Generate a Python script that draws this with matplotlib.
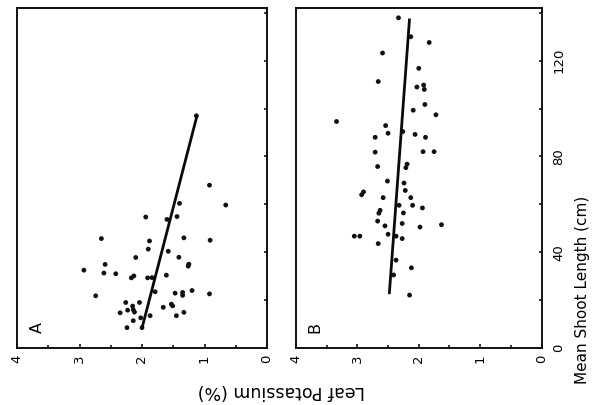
import matplotlib
matplotlib.use("Agg")
import matplotlib.pyplot as plt
from matplotlib.ticker import MultipleLocator

plt.rcParams['font.family'] = ['DejaVu Sans']

# Panel A: leaf potassium (%) vs mean shoot length (cm)
a_k = [1.13, 0.92, 0.66, 1.40, 1.94, 1.44, 1.60, 2.65, 1.88, 1.33, 0.91, 1.90, 1.58,
       2.10, 1.41, 2.59, 1.26, 1.25, 2.93, 2.61, 2.42, 2.17, 2.13, 1.91, 1.84, 1.61,
       2.74, 1.79, 1.47, 1.35, 1.35, 1.20, 0.92, 2.26, 2.04, 2.15, 2.14, 2.12, 2.23,
       2.35, 1.66, 1.51, 1.53, 1.87, 1.45, 1.33, 2.02, 2.14, 2.24, 2.00]
a_len = [97.0, 68.0, 59.7, 60.4, 54.7, 54.9, 53.7, 45.7, 44.7, 46.0, 45.0, 41.3, 40.4,
         37.8, 37.9, 34.9, 34.2, 35.0, 32.5, 31.3, 31.0, 29.3, 30.1, 29.3, 29.4, 30.4,
         21.8, 23.5, 22.9, 22.0, 23.2, 24.0, 22.6, 19.0, 19.0, 17.5, 16.0, 15.0, 15.8,
         14.7, 17.0, 17.6, 18.3, 13.5, 13.5, 14.9, 12.6, 11.4, 8.5, 8.5]
a_line_len = [8.3, 97.0]
a_line_k = [2.00, 1.12]

# Panel B
b_k = [2.33, 2.13, 1.83, 2.59, 2.00, 2.66, 2.03, 1.92, 1.91, 1.90, 2.09, 1.72, 3.34,
       2.54, 2.50, 2.26, 2.71, 2.06, 1.89, 2.71, 1.93, 1.75, 2.67, 2.21, 2.19, 2.51,
       2.24, 2.22, 2.93, 2.90, 2.58, 2.13, 2.32, 2.10, 1.94, 2.25, 2.65, 2.63, 2.67,
       2.55, 2.27, 1.98, 1.63, 2.50, 2.37, 2.27, 3.05, 2.96, 2.66, 2.37, 2.12, 2.41, 2.15]
b_len = [137.9, 130.0, 127.6, 123.2, 116.8, 111.3, 109.0, 109.8, 108.0, 101.7, 99.3,
         97.4, 94.6, 92.9, 89.7, 90.4, 88.0, 89.2, 88.0, 81.8, 82.0, 82.0, 75.8, 75.3,
         76.8, 69.7, 68.9, 65.8, 64.0, 65.2, 62.8, 62.8, 59.6, 59.6, 58.5, 56.4, 56.3,
         57.5, 53.0, 51.0, 52.0, 50.5, 51.5, 47.5, 46.7, 45.7, 46.7, 46.7, 43.6, 36.7,
         33.5, 30.5, 22.1]
b_line_len = [22.5, 137.6]
b_line_k = [2.48, 2.15]

x_ticks = [4, 3, 2, 1, 0]
y_ticks = [0, 40, 80, 120]

W, H = 592, 405
fig = plt.figure(figsize=(W / 100, H / 100), dpi=100)


def px_axes(x0, y0, x1, y1):
    return fig.add_axes([x0 / W, 1 - y1 / H, (x1 - x0) / W, (y1 - y0) / H])


axA = px_axes(17, 8, 267, 348)
axB = px_axes(296, 8, 541.5, 348)

for ax, ks, ls, lk, ll, lab, labpos in [
        (axA, a_k, a_len, a_line_k, a_line_len, 'A', (0.08, 0.06)),
        (axB, b_k, b_len, b_line_k, b_line_len, 'B', (0.075, 0.06))]:
    ax.scatter(ks, ls, s=12, c='#111111', edgecolors='none', zorder=3)
    ax.plot(lk, ll, color='#0a0a0a', lw=2.0, solid_capstyle='butt', zorder=4)
    ax.set_xlim(4, 0)
    ax.set_ylim(0, 142)
    ax.set_xticks(x_ticks)
    ax.set_xticklabels([str(v) for v in x_ticks], rotation=90)
    ax.xaxis.set_minor_locator(MultipleLocator(0.5))
    ax.set_yticks(y_ticks)
    ax.yaxis.set_minor_locator(MultipleLocator(20))
    ax.yaxis.tick_right()
    ax.tick_params(axis='x', which='both', direction='in', top=False, bottom=True,
                   labelsize=9.5, pad=5, width=1.1)
    ax.tick_params(axis='x', which='major', length=3)
    ax.tick_params(axis='x', which='minor', length=2)
    ax.tick_params(axis='y', which='both', direction='in', left=False, right=True,
                   labelleft=False, length=2.5, width=1.1)
    for sp in ax.spines.values():
        sp.set_linewidth(1.4)
        sp.set_color('#111111')
    ax.text(labpos[0], labpos[1], lab, transform=ax.transAxes, rotation=90,
            fontsize=11.5, ha='center', va='center')

axA.tick_params(axis='y', labelright=False)
axB.tick_params(axis='y', labelright=True, labelsize=9.5, pad=8)
for t in axB.get_yticklabels():
    t.set_rotation(90)
    t.set_va('center')

fig.text(281 / W, 1 - 391 / H, 'Leaf Potassium (%)', rotation=180,
         ha='center', va='center', fontsize=12.5)
fig.text(583 / W, 1 - 290 / H, 'Mean Shoot Length (cm)', rotation=90,
         ha='center', va='center', fontsize=11)

fig.savefig('out.png', dpi=100)
